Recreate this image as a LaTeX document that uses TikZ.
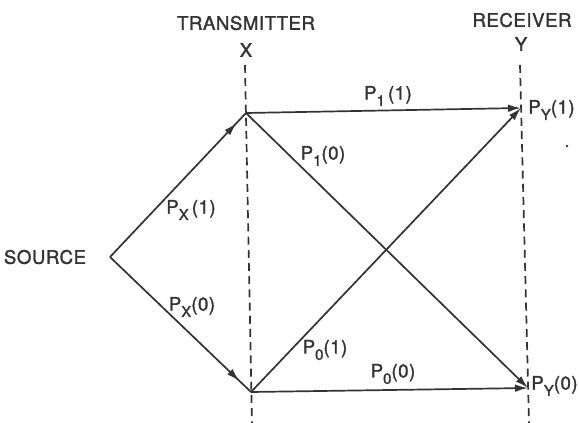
\documentclass[tikz,border=0pt]{standalone}
\usepackage{fontspec}
\setmainfont{TeX Gyre Heros}
\newfontfamily\lettrage[FakeBold=1.6, LetterSpace=3]{TeX Gyre Heros}
\usetikzlibrary{arrows.meta,decorations.markings}

\newcommand{\sous}[1]{\raisebox{-3.2pt}{\fontsize{7.5}{8}\selectfont #1}}

\begin{document}
\begin{tikzpicture}[x=0.5pt, y=-0.5pt,
    trait/.style={color=black!80, line width=0.85pt},
    fleche/.style={trait, -{Latex[length=6.5pt,width=3.8pt]}},
    flechemi/.style={trait, postaction={decorate},
        decoration={markings, mark=at position #1 with {\arrow{Latex[length=6.5pt,width=3.8pt]}}}},
    axe/.style={color=black!80, line width=0.85pt, dash pattern=on 4pt off 2.6pt},
    etiq/.style={font=\lettrage\fontsize{9.3}{10}\selectfont, text=black!80, inner sep=0pt}]
    \useasboundingbox (0,0) rectangle (579,423);

    % Axes pointill\'es de l'emetteur et du recepteur
    \coordinate (Xhaut) at (245,65);
    \coordinate (Xbas) at (252,423);
    \coordinate (Yhaut) at (520,65);
    \coordinate (Ybas) at (529,423);
    \draw[axe] (Xhaut) -- (Xbas);
    \draw[axe] (Yhaut) -- (Ybas);

    % Titres
    \node[etiq] (emet) at (246,23) {TRANSMITTER};
    \node[etiq] (nomX) at (246,50) {X};
    \node[etiq] (recep) at (522,20) {RECEIVER};
    \node[etiq] (nomY) at (521,44) {Y};
    \node[etiq] (src) at (45,257) {SOURCE};

    % Points du canal
    \coordinate (S) at (110,257);
    \coordinate (X1) at (246,113);
    \coordinate (X0) at (251,392);
    \coordinate (Y1) at (521,108);
    \coordinate (Y0) at (528,388);

    % Source vers emetteur
    \draw[flechemi=0.93] (S) -- (X1);
    \draw[flechemi=0.92] (S) -- (X0);

    % Transitions du canal
    \draw[fleche] (X1) -- (Y1);
    \draw[fleche] (X1) -- (Y0);
    \draw[fleche] (X0) -- (Y1);
    \draw[fleche] (X0) -- (Y0);

    % Probabilites
    \node[etiq] (px1) at (191,210) {P\sous{X}\,(1)};
    \node[etiq] (px0) at (192,307) {P\sous{X}(0)};
    \node[etiq] (p11) at (388,96) {P\sous{1}\,(1)};
    \node[etiq] (p10) at (323,156) {P\sous{1}(0)};
    \node[etiq] (p01) at (325,350) {P\sous{0}(1)};
    \node[etiq] (p00) at (393,374) {P\sous{0}(0)};
    \node[etiq, anchor=west] (py1) at (528,110) {P\sous{Y}(1)};
    \node[etiq, anchor=west] (py0) at (531,386) {P\sous{Y}(0)};

    % Petit point isole
    \fill[black!80] (567,146) circle (0.7pt);
\end{tikzpicture}
\end{document}
